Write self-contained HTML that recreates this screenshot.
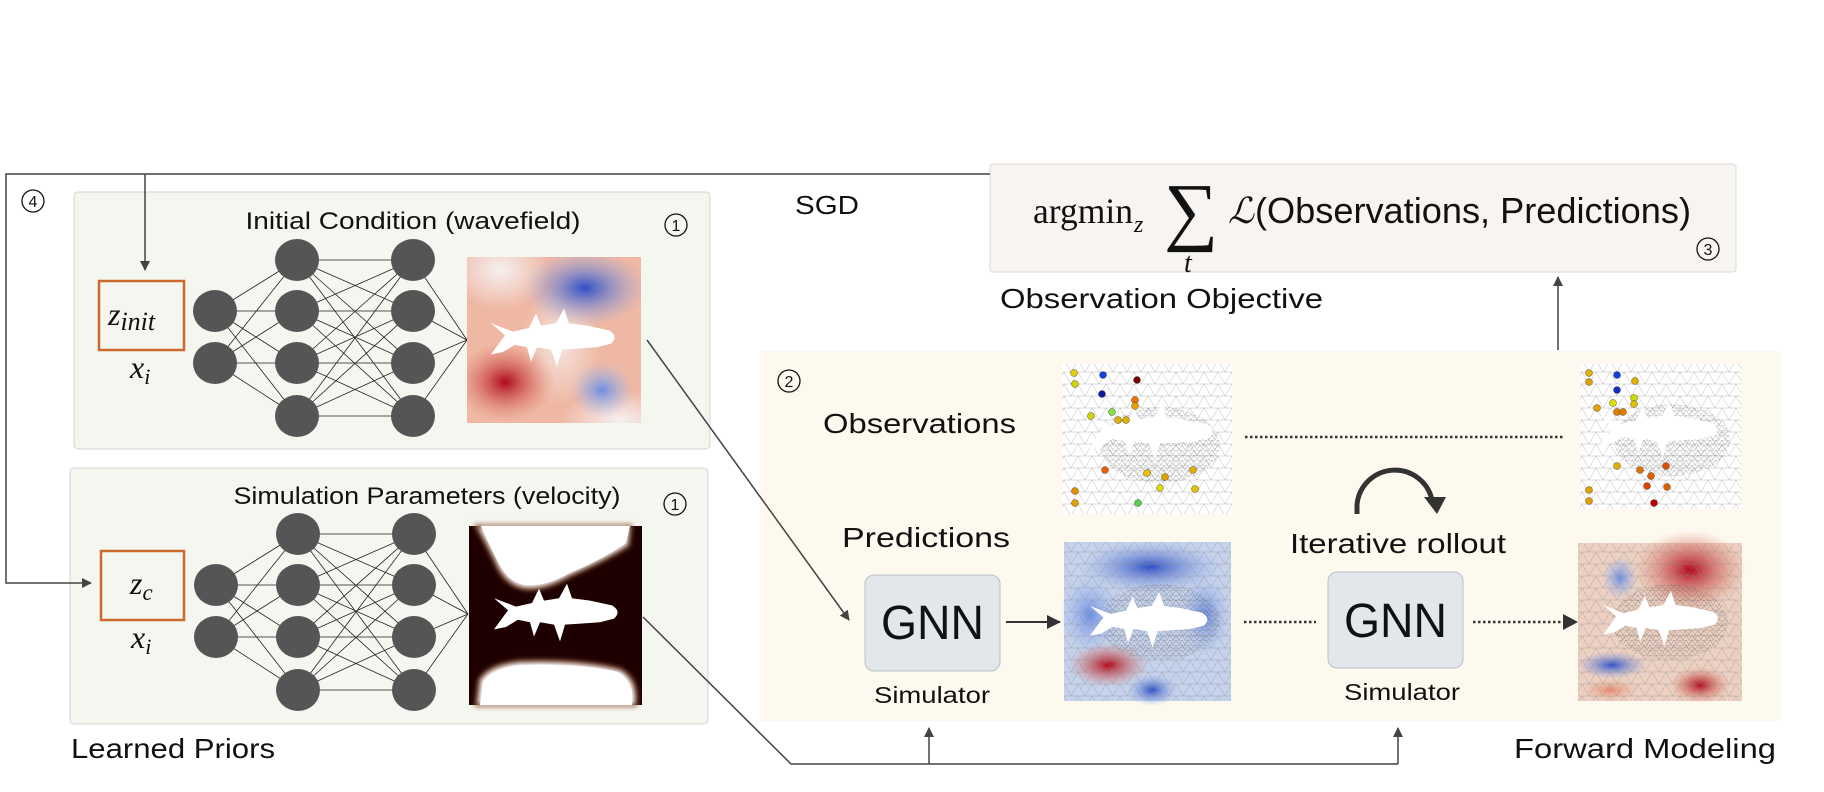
<!DOCTYPE html>
<html><head><meta charset="utf-8"><style>
html,body{margin:0;padding:0;background:#fff;}
svg{display:block;}
text{font-family:"Liberation Sans",sans-serif;fill:#111;}
.serif{font-family:"Liberation Serif",serif;}
</style></head><body>
<svg width="1824" height="792" viewBox="0 0 1824 792" xmlns="http://www.w3.org/2000/svg">
<defs>
<marker id="ah" markerWidth="10" markerHeight="10" refX="9" refY="5" orient="auto" markerUnits="userSpaceOnUse">
<path d="M0,0 L10,5 L0,10 Z" fill="#444"/></marker>
<marker id="ahb" markerWidth="14" markerHeight="14" refX="13" refY="7" orient="auto" markerUnits="userSpaceOnUse">
<path d="M0,0 L14,7 L0,14 Z" fill="#333"/></marker>
<pattern id="mesh" width="14" height="12" patternUnits="userSpaceOnUse">
<path d="M0,0 L14,0 M0,0 L7,12 M14,0 L7,12 M0,12 L14,12" stroke="#888" stroke-width="0.5" fill="none" opacity="0.6"/>
</pattern>
<pattern id="meshf" width="6" height="5" patternUnits="userSpaceOnUse">
<path d="M0,0 L6,0 M0,0 L3,5 M6,0 L3,5" stroke="#555" stroke-width="0.4" fill="none" opacity="0.6"/>
</pattern>
<clipPath id="cw"><rect x="467" y="257" width="174" height="166"/></clipPath>
<path id="fish" d="M0,-14 L14,-4 L0,12 L12,10 L24,4 L36,6 L40,18 L46,6 L60,8 L66,22 L71,8 L90,7 L106,6 L120,3 Q128,-3 118,-8 L96,-12 L78,-14 L73,-26 L65,-14 L50,-12 L45,-22 L38,-10 L22,-7 Z"/>
<radialGradient id="b1"><stop offset="0" stop-color="#2f4fc4"/><stop offset="1" stop-color="#8aa6ea" stop-opacity="0"/></radialGradient>
<radialGradient id="r1"><stop offset="0" stop-color="#b0091e"/><stop offset="1" stop-color="#e07a60" stop-opacity="0"/></radialGradient>
<radialGradient id="rl"><stop offset="0" stop-color="#e58a6e"/><stop offset="1" stop-color="#f0b9a4" stop-opacity="0"/></radialGradient>
<radialGradient id="bl"><stop offset="0" stop-color="#6e8fe3"/><stop offset="1" stop-color="#a6bdf0" stop-opacity="0"/></radialGradient>
<radialGradient id="wl"><stop offset="0" stop-color="#f6f0f0"/><stop offset="1" stop-color="#f6f0f0" stop-opacity="0"/></radialGradient>
<filter id="blur"><feGaussianBlur stdDeviation="2.5"/></filter>
<g id="net">
<path fill="none" stroke="#222" stroke-width="0.8" d="M215 311L297 260M215 311L297 311M215 311L297 363M215 311L297 416M215 363L297 260M215 363L297 311M215 363L297 363M215 363L297 416
M297 260L413 260M297 260L413 311M297 260L413 363M297 260L413 416
M297 311L413 260M297 311L413 311M297 311L413 363M297 311L413 416
M297 363L413 260M297 363L413 311M297 363L413 363M297 363L413 416
M297 416L413 260M297 416L413 311M297 416L413 363M297 416L413 416
M413 260L467 340M413 311L467 340M413 363L467 340M413 416L467 340"/>
<g fill="#555"><ellipse cx="215" cy="311" rx="22" ry="21"/><ellipse cx="215" cy="363" rx="22" ry="21"/>
<ellipse cx="297" cy="260" rx="22" ry="21"/><ellipse cx="297" cy="311" rx="22" ry="21"/><ellipse cx="297" cy="363" rx="22" ry="21"/><ellipse cx="297" cy="416" rx="22" ry="21"/>
<ellipse cx="413" cy="260" rx="22" ry="21"/><ellipse cx="413" cy="311" rx="22" ry="21"/><ellipse cx="413" cy="363" rx="22" ry="21"/><ellipse cx="413" cy="416" rx="22" ry="21"/></g>
</g>
</defs>

<rect x="74" y="192" width="636" height="257" rx="4" fill="#f4f7f0" stroke="#d2d6cf"/>
<rect x="70" y="468" width="638" height="256" rx="4" fill="#f4f7f0" stroke="#d2d6cf"/>
<rect x="760" y="351" width="1021" height="370" fill="#fdf9ee"/>
<rect x="990" y="164" width="746" height="108" rx="3" fill="#f8f4f1" stroke="#dcd8d4"/>

<path d="M990 174 L6 174 L6 583 L91 583" fill="none" stroke="#444" stroke-width="1.5" marker-end="url(#ah)"/>
<path d="M145 174 L145 270" fill="none" stroke="#444" stroke-width="1.5" marker-end="url(#ah)"/>
<circle cx="33" cy="201" r="11" fill="none" stroke="#111" stroke-width="1.3"/><text x="33" y="207" font-size="16" text-anchor="middle">4</text>
<text x="795" y="214" font-size="26" textLength="64" lengthAdjust="spacingAndGlyphs">SGD</text>

<text x="413" y="229" font-size="24" text-anchor="middle" textLength="335" lengthAdjust="spacingAndGlyphs">Initial Condition (wavefield)</text>
<circle cx="676" cy="225" r="11" fill="none" stroke="#111" stroke-width="1.3"/><text x="676" y="231" font-size="16" text-anchor="middle">1</text>
<rect x="99" y="281" width="85" height="69" fill="none" stroke="#cc6a2c" stroke-width="2.5"/>
<text x="108" y="325" font-size="32" class="serif" font-style="italic">z<tspan font-size="26" dy="5">init</tspan></text>
<text x="130" y="378" font-size="32" class="serif" font-style="italic">x<tspan font-size="22" dy="6">i</tspan></text>
<use href="#net"/>
<g clip-path="url(#cw)">
<rect x="467" y="257" width="174" height="166" fill="#efb8a4"/>
<ellipse cx="500" cy="270" rx="50" ry="40" fill="url(#wl)"/>
<ellipse cx="560" cy="345" rx="40" ry="60" fill="url(#wl)" opacity="0.8"/>
<ellipse cx="620" cy="420" rx="60" ry="30" fill="url(#wl)"/>
<ellipse cx="585" cy="288" rx="62" ry="38" fill="url(#b1)"/>
<ellipse cx="505" cy="382" rx="50" ry="40" fill="url(#r1)"/>
<ellipse cx="602" cy="390" rx="32" ry="28" fill="url(#bl)"/>
<use href="#fish" transform="translate(491,340) scale(1,1.2)" fill="#fff"/>
</g>

<text x="427" y="504" font-size="24" text-anchor="middle" textLength="387" lengthAdjust="spacingAndGlyphs">Simulation Parameters (velocity)</text>
<circle cx="675" cy="504" r="11" fill="none" stroke="#111" stroke-width="1.3"/><text x="675" y="510" font-size="16" text-anchor="middle">1</text>
<rect x="101" y="551" width="83" height="69" fill="none" stroke="#cc6a2c" stroke-width="2.5"/>
<text x="130" y="594" font-size="32" class="serif" font-style="italic">z<tspan font-size="23" dy="6">c</tspan></text>
<text x="131" y="648" font-size="32" class="serif" font-style="italic">x<tspan font-size="22" dy="6">i</tspan></text>
<use href="#net" transform="translate(1,274)"/>
<g>
<rect x="469" y="526" width="173" height="179" fill="#1e0000"/>
<g filter="url(#blur)">
<path d="M477 526 L630 526 L628 545 Q605 560 570 575 Q545 590 525 588 Q505 585 495 560 Q485 540 477 526 Z" fill="#fff" stroke="#a07050" stroke-width="4"/>
<path d="M477 705 L635 705 Q638 680 620 670 Q580 660 520 662 Q490 665 480 680 Z" fill="#fff" stroke="#a07050" stroke-width="4"/>
</g>
<path d="M477 526 L630 526 L626 543 Q605 558 570 573 Q545 587 525 585 Q507 582 497 560 Q487 540 481 526 Z" fill="#fff"/>
<path d="M480 705 L632 705 Q635 682 618 672 Q580 663 520 665 Q492 668 483 682 Z" fill="#fff"/>
<use href="#fish" transform="translate(494,615) scale(1,1.2)" fill="#fff"/>
</g>
<text x="71" y="758" font-size="28" textLength="204" lengthAdjust="spacingAndGlyphs">Learned Priors</text>

<path d="M647 340 L849 620" fill="none" stroke="#444" stroke-width="1.5" marker-end="url(#ah)"/>
<path d="M643 617 L791 764 L1398 764" fill="none" stroke="#444" stroke-width="1.5"/>
<path d="M929 764 L929 728" fill="none" stroke="#444" stroke-width="1.5" marker-end="url(#ah)"/>
<path d="M1398 764 L1398 728" fill="none" stroke="#444" stroke-width="1.5" marker-end="url(#ah)"/>

<text x="1033" y="223" font-size="36" class="serif" textLength="100" lengthAdjust="spacingAndGlyphs">argmin</text>
<text x="1134" y="232" font-size="24" class="serif" font-style="italic">z</text>
<text x="1164" y="236" font-size="76" class="serif">∑</text>
<text x="1184" y="272" font-size="28" class="serif" font-style="italic">t</text>
<text x="1228" y="223" font-size="36" class="serif" font-style="italic">ℒ</text>
<text x="1255" y="223" font-size="36" textLength="436" lengthAdjust="spacingAndGlyphs">(Observations, Predictions)</text>
<circle cx="1708" cy="249" r="11" fill="none" stroke="#111" stroke-width="1.3"/><text x="1708" y="255" font-size="16" text-anchor="middle">3</text>
<text x="1000" y="308" font-size="28" textLength="323" lengthAdjust="spacingAndGlyphs">Observation Objective</text>
<path d="M1558 350 L1558 277" fill="none" stroke="#444" stroke-width="1.5" marker-end="url(#ah)"/>

<circle cx="789" cy="381" r="11" fill="none" stroke="#111" stroke-width="1.3"/><text x="789" y="387" font-size="16" text-anchor="middle">2</text>
<text x="823" y="433" font-size="28" textLength="193" lengthAdjust="spacingAndGlyphs">Observations</text>
<text x="842" y="547" font-size="28" textLength="168" lengthAdjust="spacingAndGlyphs">Predictions</text>

<rect x="1062" y="364" width="170" height="150" fill="#fff"/>
<rect x="1062" y="364" width="170" height="150" fill="url(#mesh)"/>
<ellipse cx="1160" cy="445" rx="60" ry="38" fill="url(#meshf)"/>
<use href="#fish" transform="translate(1089,434) scale(1,1.2)" fill="#fff"/>
<g stroke="#333" stroke-width="0.4">
<circle cx="1074" cy="373" r="3.5" fill="#e0d000"/><circle cx="1075" cy="384" r="3.5" fill="#c8d800"/><circle cx="1103" cy="375" r="3.5" fill="#1040e0"/><circle cx="1137" cy="380" r="3.5" fill="#7a0000"/><circle cx="1102" cy="394" r="3.5" fill="#0a1aa0"/><circle cx="1135" cy="400" r="3.5" fill="#f07000"/><circle cx="1135" cy="406" r="3.5" fill="#e8a000"/><circle cx="1091" cy="416" r="3.5" fill="#c8d800"/><circle cx="1112" cy="412" r="3.5" fill="#8ae040"/><circle cx="1118" cy="420" r="3.5" fill="#e0b000"/><circle cx="1126" cy="420" r="3.5" fill="#e0b000"/><circle cx="1105" cy="470" r="3.5" fill="#e86000"/><circle cx="1147" cy="473" r="3.5" fill="#e8c000"/><circle cx="1165" cy="477" r="3.5" fill="#e0a000"/><circle cx="1193" cy="470" r="3.5" fill="#e0b000"/><circle cx="1160" cy="488" r="3.5" fill="#d8e000"/><circle cx="1195" cy="489" r="3.5" fill="#e0c000"/><circle cx="1075" cy="491" r="3.5" fill="#e09000"/><circle cx="1075" cy="503" r="3.5" fill="#e0a000"/><circle cx="1138" cy="503" r="3.5" fill="#50d050"/>
</g>
<path d="M1245 437 L1563 437" stroke="#333" stroke-width="2.5" stroke-dasharray="2.5,2.5"/>
<rect x="1580" y="364" width="161" height="145" fill="#fff"/>
<rect x="1580" y="364" width="161" height="145" fill="url(#mesh)"/>
<ellipse cx="1672" cy="440" rx="58" ry="36" fill="url(#meshf)"/>
<use href="#fish" transform="translate(1600,432) scale(0.95,1.15)" fill="#fff"/>
<g stroke="#333" stroke-width="0.4">
<circle cx="1589" cy="373" r="3.5" fill="#e0b000"/><circle cx="1589" cy="382" r="3.5" fill="#e0a000"/><circle cx="1617" cy="375" r="3.5" fill="#1040e0"/><circle cx="1617" cy="390" r="3.5" fill="#1030c0"/><circle cx="1635" cy="381" r="3.5" fill="#e0b000"/><circle cx="1634" cy="398" r="3.5" fill="#c8e000"/><circle cx="1634" cy="404" r="3.5" fill="#e0c000"/><circle cx="1597" cy="408" r="3.5" fill="#e0a000"/><circle cx="1613" cy="403" r="3.5" fill="#d8e000"/><circle cx="1617" cy="412" r="3.5" fill="#e08000"/><circle cx="1623" cy="412" r="3.5" fill="#e08000"/><circle cx="1617" cy="466" r="3.5" fill="#e0b000"/><circle cx="1640" cy="470" r="3.5" fill="#e07000"/><circle cx="1651" cy="476" r="3.5" fill="#e06000"/><circle cx="1666" cy="466" r="3.5" fill="#e05000"/><circle cx="1647" cy="486" r="3.5" fill="#e04000"/><circle cx="1667" cy="487" r="3.5" fill="#e06000"/><circle cx="1589" cy="490" r="3.5" fill="#e0a000"/><circle cx="1589" cy="501" r="3.5" fill="#e0a000"/><circle cx="1654" cy="503" r="3.5" fill="#c00000"/>
</g>

<path d="M1357 514 L1357 505 A38 38 0 0 1 1432 500" fill="none" stroke="#333" stroke-width="5"/>
<path d="M1424 497 L1446 497 L1437 514 Z" fill="#333"/>
<text x="1290" y="553" font-size="28" textLength="216" lengthAdjust="spacingAndGlyphs">Iterative rollout</text>

<rect x="865" y="575" width="135" height="96" rx="9" fill="#e1e7ea" stroke="#b9c1c5"/>
<text x="932.5" y="639" font-size="48" text-anchor="middle" textLength="103" lengthAdjust="spacingAndGlyphs">GNN</text>
<text x="932" y="703" font-size="23" text-anchor="middle" textLength="116" lengthAdjust="spacingAndGlyphs">Simulator</text>
<rect x="1328" y="572" width="135" height="96" rx="9" fill="#e1e7ea" stroke="#b9c1c5"/>
<text x="1395.5" y="637" font-size="48" text-anchor="middle" textLength="103" lengthAdjust="spacingAndGlyphs">GNN</text>
<text x="1402" y="700" font-size="23" text-anchor="middle" textLength="116" lengthAdjust="spacingAndGlyphs">Simulator</text>

<path d="M1006 622 L1060 622" stroke="#333" stroke-width="2" fill="none" marker-end="url(#ahb)"/>
<path d="M1244 622 L1316 622" stroke="#333" stroke-width="2.5" stroke-dasharray="2.5,2.5"/>
<path d="M1473 622 L1565 622" stroke="#333" stroke-width="2.5" stroke-dasharray="2.5,2.5"/>
<path d="M1563 614 L1578 622 L1563 630 Z" fill="#333"/>

<rect x="1064" y="542" width="167" height="159" fill="#c5d2ec"/>
<ellipse cx="1150" cy="567" rx="70" ry="26" fill="url(#b1)"/>
<ellipse cx="1090" cy="615" rx="30" ry="40" fill="url(#bl)"/>
<ellipse cx="1205" cy="615" rx="25" ry="40" fill="url(#bl)"/>
<ellipse cx="1108" cy="665" rx="40" ry="22" fill="url(#r1)"/>
<ellipse cx="1152" cy="690" rx="25" ry="16" fill="url(#b1)"/>
<rect x="1064" y="542" width="167" height="159" fill="url(#mesh)"/>
<ellipse cx="1160" cy="622" rx="60" ry="38" fill="url(#meshf)"/>
<use href="#fish" transform="translate(1090,622) scale(0.95,1.15)" fill="#fff"/>

<rect x="1578" y="543" width="164" height="158" fill="#ecd0c2"/>
<ellipse cx="1690" cy="570" rx="55" ry="40" fill="url(#r1)"/>
<ellipse cx="1620" cy="578" rx="18" ry="22" fill="url(#bl)"/>
<ellipse cx="1612" cy="665" rx="35" ry="14" fill="url(#b1)"/>
<ellipse cx="1610" cy="690" rx="30" ry="12" fill="url(#rl)"/>
<ellipse cx="1700" cy="685" rx="30" ry="18" fill="url(#r1)"/>
<rect x="1578" y="543" width="164" height="158" fill="url(#mesh)"/>
<ellipse cx="1670" cy="622" rx="58" ry="38" fill="url(#meshf)"/>
<use href="#fish" transform="translate(1603,621) scale(0.93,1.15)" fill="#fff"/>

<text x="1514" y="758" font-size="28" textLength="262" lengthAdjust="spacingAndGlyphs">Forward Modeling</text>
</svg>
</body></html>
